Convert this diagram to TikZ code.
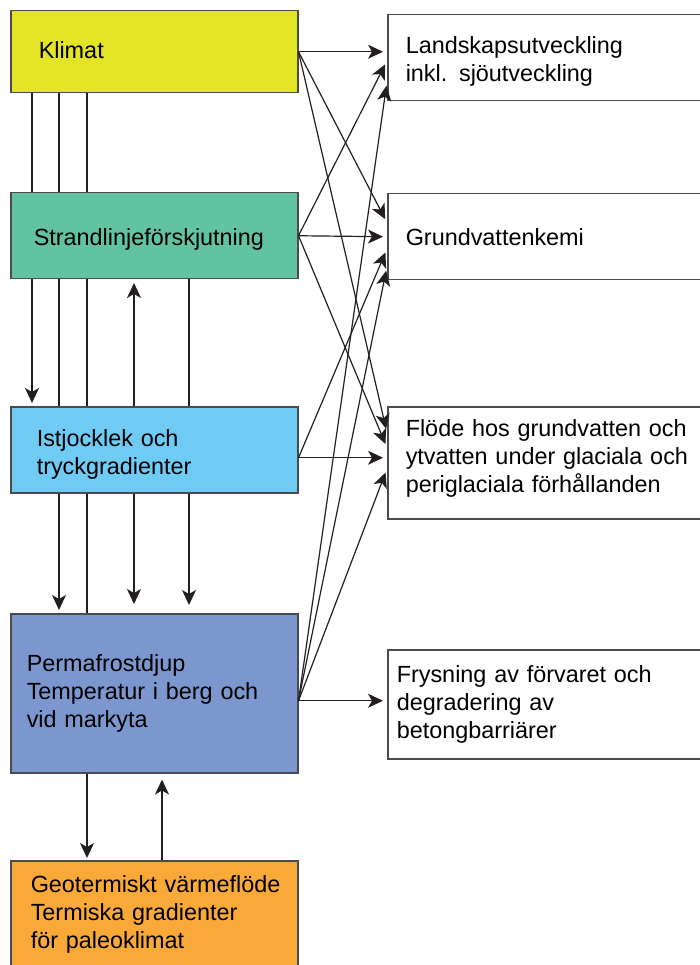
\documentclass[tikz,border=0pt]{standalone}
\usepackage{fontspec}
\setmainfont{Liberation Sans}
\usetikzlibrary{arrows.meta,backgrounds}

\definecolor{klimatcol}{RGB}{227,228,38}
\definecolor{strandcol}{RGB}{98,195,163}
\definecolor{iscol}{RGB}{111,203,243}
\definecolor{permacol}{RGB}{124,151,206}
\definecolor{geocol}{RGB}{249,169,55}
\definecolor{boxline}{RGB}{75,75,75}
\definecolor{linkcol}{RGB}{35,31,32}

\tikzset{
    box/.style={draw=boxline, line width=1.5pt, anchor=north west, align=left,
        inner ysep=2pt, font=\fontsize{23.4}{28}\selectfont,
        execute at begin node={\hyphenpenalty=10000}},
    lbox/.style={box, minimum width=287pt},
    rbox/.style={box, fill=white, minimum width=315pt},
    link/.style={draw=linkcol, line width=1.2pt, shorten >=4pt,
        -{Stealth[length=15pt, width=14pt, inset=4pt]}},
}

\begin{document}
\begin{tikzpicture}[x=1pt, y=-1pt]
                \useasboundingbox (0,0) rectangle (700,965);
                % left column
                \node[lbox, fill=klimatcol, minimum height=82pt, inner xsep=28pt, text width=231pt, text depth=4pt] (klimat) at (10,10) {Klimat};
                \node[lbox, fill=strandcol, minimum height=86pt, inner xsep=23pt, text width=241pt, text height=25pt] (strand) at (10,192) {Strandlinjeförskjutning};
                \node[lbox, fill=iscol, minimum height=86pt, inner xsep=26pt, text width=235pt, text height=27pt] (istjocklek) at (10,406) {Istjocklek och\\tryckgradienter};
                \node[lbox, fill=permacol, minimum height=159pt, inner xsep=16pt, text width=255pt] (permafrost) at (10,613) {Permafrostdjup\\Temperatur i berg och\\vid markyta};
                \node[lbox, fill=geocol, minimum height=108pt, inner xsep=20pt, text width=247pt] (geoterm) at (10,860) {Geotermiskt~värmeflöde\\Termiska gradienter\\för paleoklimat};
                % right column
                \node[rbox, minimum height=86pt, inner xsep=18pt, text width=279pt, text height=25pt] (landskap) at (387,14) {Landskapsutveckling\\inkl. sjöutveckling};
                \node[rbox, minimum height=86pt, inner xsep=18pt, text width=279pt] (grund) at (387,193) {Grundvattenkemi};
                \node[rbox, minimum height=112pt, inner xsep=18pt, text width=279pt, text depth=69pt] (flode) at (387,406) {Flöde~hos~grundvatten~och\\ytvatten~under~glaciala~och\\periglaciala förhållanden};
                \node[rbox, minimum height=109pt, inner xsep=9pt, text width=297pt] (frysning) at (387,649) {Frysning av förvaret och\\degradering av\\betongbarriärer};
                % vertical links, behind the boxes
                \begin{scope}[on background layer]
                    \draw[link, shorten >=3pt] ([xshift=22pt]klimat.south west) -- ([xshift=22pt]istjocklek.north west);
                    \draw[link, shorten >=3pt] ([xshift=49pt]klimat.south west) -- ([xshift=49pt]permafrost.north west);
                    \draw[link, shorten >=2pt] ([xshift=77pt]klimat.south west) -- ([xshift=77pt]geoterm.north west);
                    \draw[link, shorten >=3.5pt] ([xshift=124pt]istjocklek.north west) -- ([xshift=124pt]strand.south west);
                    \draw[link, shorten >=9pt] ([xshift=124pt]istjocklek.south west) -- ([xshift=124pt]permafrost.north west);
                    \draw[link, shorten >=8pt] ([xshift=179pt]strand.south west) -- ([xshift=179pt]permafrost.north west);
                    \draw[link, shorten >=6pt] ([xshift=152pt]geoterm.north west) -- ([xshift=152pt]permafrost.south west);
                \end{scope}
                % links to the right column
                \draw[link] (klimat.east) -- ([yshift=6pt]landskap.west);
                \draw[link] (klimat.east) -- ([yshift=14pt]grund.west);
                \draw[link] (klimat.east) -- ([yshift=30pt]flode.west);
                \draw[link] (strand.east) -- ([yshift=-3pt]landskap.west);
                \draw[link] (strand.east) -- (grund.west);
                \draw[link] (strand.east) -- ([yshift=15pt]flode.west);
                \draw[link] ([yshift=-8pt]istjocklek.east) -- ([yshift=-12pt]grund.west);
                \draw[link] ([yshift=-8pt]istjocklek.east) -- ([yshift=5pt]flode.west);
                \draw[link] ([yshift=-7.5pt]permafrost.east) -- ([yshift=-24pt]landskap.west);
                \draw[link] ([yshift=-7.5pt]permafrost.east) -- ([yshift=-30pt]grund.west);
                \draw[link] ([yshift=-7.5pt]permafrost.east) -- ([yshift=-6pt]flode.west);
                \draw[link] ([yshift=-7.5pt]permafrost.east) -- ([yshift=3.5pt]frysning.west);
            \end{tikzpicture}
\end{document}
